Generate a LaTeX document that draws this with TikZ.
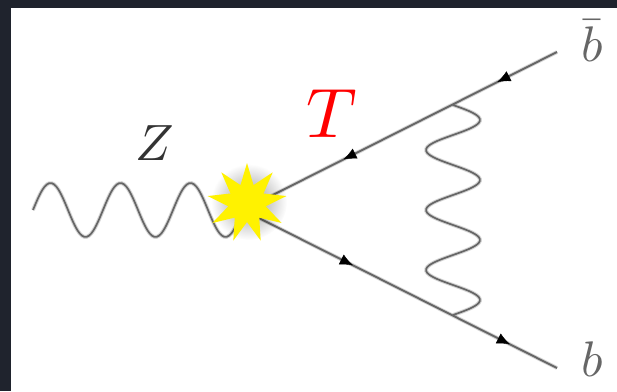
\documentclass[tikz,border=0pt]{standalone}
\usetikzlibrary{decorations.markings,shapes.geometric,arrows.meta,fadings}
\definecolor{frame}{HTML}{1F232D}
\definecolor{ink}{HTML}{666666}
\tikzfading[name=glow,inner color=transparent!30,outer color=transparent!100]
\tikzset{
  x=1pt,y=-1pt,
  quark/.style={draw=ink,line width=1.9pt,preaction={draw=ink,line width=3.8pt,opacity=.28}},
  boson/.style={draw=ink,line width=1.7pt,line join=round,preaction={draw=ink,line width=3.8pt,opacity=.28}},
  headtip/.tip={Latex[length=13pt,width=11pt,black]},
  label/.style={inner sep=0pt,outer sep=0pt},
  burst/.style={star,star points=9,inner sep=0pt,outer sep=0pt},
}
\begin{document}
\begin{tikzpicture}
\useasboundingbox (0,0) rectangle (617,391);
\fill[frame] (0,0) rectangle (617,391);
\fill[white] (11,8) rectangle (617,391);
% ends
\coordinate (zs) at (33,210);
\coordinate (v) at (243,210);
\coordinate (bbar) at (557,52);
\coordinate (bq) at (557,368);
\coordinate (gu) at (453,105);
% Z wave
\draw[boson,shift={(zs)}] plot[smooth,domain=0:3,samples=91] ({70*\x},{-27*sin(360*\x)});
% quark lines
\draw[quark] (bbar) -- (v);
\draw[quark] (v) -- (bq);
% arrowheads
\path[postaction={decorate},decoration={markings,
   mark=at position .19 with {\arrow{headtip}},
   mark=at position .68 with {\arrow{headtip}}}] (bbar) -- (v);
\path[postaction={decorate},decoration={markings,
   mark=at position .35 with {\arrow{headtip}},
   mark=at position .85 with {\arrow{headtip}}}] (v) -- (bq);
% gluon
\draw[boson,shift={(gu)}] plot[smooth,domain=0:3.5,samples=106] ({27*sin(360*\x)},{60*\x});
% star glow
\fill[black,opacity=.6,path fading=glow] (249,202) circle[radius=38pt];
\node[burst,star point ratio=2.1,minimum size=80pt,fill=yellow] (st) at (247,203) {};
% labels
\node[label,text=black!80] (zl) at (155,143.5) {\scalebox{5.1}{$Z$}};
\node[label,text=red] (tl) at (332,114) {\scalebox{7}{$T$}};
\node[label,text=black!60] (bb) at (592,41) {\scalebox{5}{$\bar b$}};
\node[label,text=black!60] (bl) at (592,359) {\scalebox{5}{$b$}};
\end{tikzpicture}
\end{document}
